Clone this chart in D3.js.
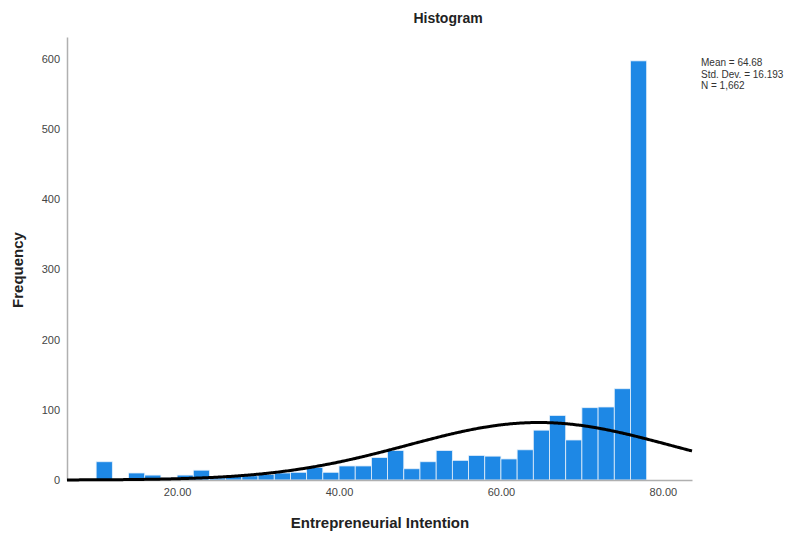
<!DOCTYPE html>
<html>
<head>
<meta charset="utf-8">
<script src="https://cdn.jsdelivr.net/npm/d3@7"></script>
<style>
  body { margin: 0; background: #fff; }
  svg { font-family: "Liberation Sans", Arial, sans-serif; }
</style>
</head>
<body>
<div id="canvas"></div>
<script>
// bin starts (width 2) and counts
let binStarts = [10,12,14,16,18,20,22,24,26,28,30,32,34,36,38,40,42,44,46,48,50,52,54,56,58,60,62,64,66,68,70,72,74,76];
let counts    = [26, 0,10, 7, 3, 7,14, 3, 5, 6, 8,10,11,18,11,20,20,32,42,16,26,42,28,35,34,30,43,71,92,57,103,104,130,597];
let binWidth = 2;

let xTicks = [20, 40, 60, 80];
let yTicks = [0, 100, 200, 300, 400, 500, 600];

// stats shown in the legend
let mean = 64.68;
let sd = 16.193;
let n = 1662;
let statLines = ['Mean = 64.68', 'Std. Dev. = 16.193', 'N = 1,662'];

let width = 800, height = 533;

let canvas = d3.select('#canvas').append('svg')
    .attr('width', width)
    .attr('height', height);

let x = d3.scaleLinear().domain([6.4, 83.6]).range([67, 692]);
let y = d3.scaleLinear().domain([0, 631]).range([480, 37]);

// bars
canvas.append('g').selectAll('rect')
    .data(binStarts.map((b, i) => ({ x0: b, x1: b + binWidth, count: counts[i] })))
    .enter()
    .append('rect')
    .attr('x', d => x(d.x0))
    .attr('width', d => x(d.x1) - x(d.x0))
    .attr('y', d => y(d.count))
    .attr('height', d => y(0) - y(d.count))
    .attr('fill', '#1e88e5')
    .attr('stroke', '#e6f0fa')
    .attr('stroke-width', 0.8);

// axes (no tick marks, just labels and a grey line)
let xAxis = canvas.append('g')
    .attr('transform', `translate(0,${y(0)})`)
    .call(d3.axisBottom(x).tickValues(xTicks).tickFormat(d3.format('.2f')).tickSize(0).tickPadding(8));
let yAxis = canvas.append('g')
    .attr('transform', `translate(${x.range()[0]},0)`)
    .call(d3.axisLeft(y).tickValues(yTicks).tickSize(0).tickPadding(7));

[xAxis, yAxis].forEach(a => {
    a.select('.domain').attr('stroke', '#b0b0b0').attr('stroke-width', 1.5);
    a.selectAll('text').attr('fill', '#444').style('font-size', '11px');
});

// normal curve
let pdf = v => n * binWidth * Math.exp(-0.5 * ((v - mean) / sd) ** 2) / (sd * Math.sqrt(2 * Math.PI));
let curvePts = d3.range(x.domain()[0], x.domain()[1] + 0.01, 0.2);
canvas.append('path')
    .datum(curvePts)
    .attr('d', d3.line().x(v => x(v)).y(v => y(pdf(v))).curve(d3.curveBasis))
    .attr('fill', 'none')
    .attr('stroke', '#000')
    .attr('stroke-width', 3);

// title and axis labels
canvas.append('text')
    .attr('x', 448).attr('y', 23)
    .attr('text-anchor', 'middle')
    .style('font-size', '14px').style('font-weight', 'bold')
    .attr('fill', '#222')
    .text('Histogram');

canvas.append('text')
    .attr('x', 380).attr('y', 528)
    .attr('text-anchor', 'middle')
    .style('font-size', '15px').style('font-weight', 'bold')
    .attr('fill', '#222')
    .text('Entrepreneurial Intention');

canvas.append('text')
    .attr('transform', 'translate(23,270) rotate(-90)')
    .attr('text-anchor', 'middle')
    .style('font-size', '15px').style('font-weight', 'bold')
    .attr('fill', '#222')
    .text('Frequency');

// stats box
canvas.append('g').selectAll('text')
    .data(statLines)
    .enter()
    .append('text')
    .attr('x', 701)
    .attr('y', (d, i) => 66 + i * 11.5)
    .style('font-size', '10px')
    .attr('fill', '#333')
    .text(d => d);
</script>
</body>
</html>
